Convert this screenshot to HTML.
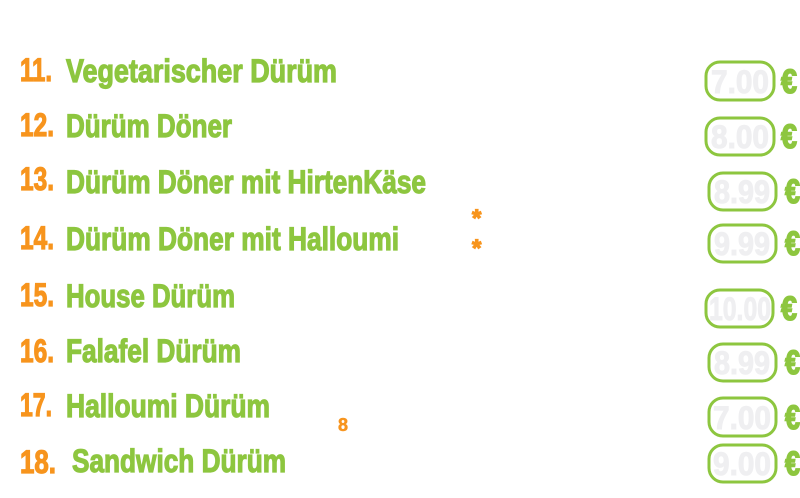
<!DOCTYPE html>
<html><head><meta charset="utf-8"><style>html,body{margin:0;padding:0;background:#fff;width:800px;height:498px;overflow:hidden}</style></head>
<body>
<svg width="800" height="498" xmlns="http://www.w3.org/2000/svg" style="display:block">
<g font-family="Liberation Sans, sans-serif" font-weight="bold" font-size="32">
<g fill="#f7941d" stroke="#f7941d" stroke-width="1.2">
<text x="20" y="81" textLength="32" lengthAdjust="spacingAndGlyphs">11.</text>
<text x="20" y="136" textLength="34" lengthAdjust="spacingAndGlyphs">12.</text>
<text x="20" y="190" textLength="34" lengthAdjust="spacingAndGlyphs">13.</text>
<text x="20" y="249" textLength="34" lengthAdjust="spacingAndGlyphs">14.</text>
<text x="20" y="306" textLength="34" lengthAdjust="spacingAndGlyphs">15.</text>
<text x="20" y="362" textLength="34" lengthAdjust="spacingAndGlyphs">16.</text>
<text x="20" y="416" textLength="32" lengthAdjust="spacingAndGlyphs">17.</text>
<text x="20" y="473" textLength="36" lengthAdjust="spacingAndGlyphs">18.</text>
<text x="472" y="226" font-size="24">*</text>
<text x="472" y="256" font-size="24">*</text>
<text x="338" y="431" font-size="18" stroke-width="0.5">8</text>
</g>
<g fill="#8dc63f" stroke="#8dc63f" stroke-width="1.2">
<text x="66" y="82" textLength="271" lengthAdjust="spacingAndGlyphs">Vegetarischer Dürüm</text>
<text x="66" y="137" textLength="166" lengthAdjust="spacingAndGlyphs">Dürüm Döner</text>
<text x="66" y="193" textLength="360" lengthAdjust="spacingAndGlyphs">Dürüm Döner mit HirtenKäse</text>
<text x="66" y="250" textLength="333" lengthAdjust="spacingAndGlyphs">Dürüm Döner mit Halloumi</text>
<text x="66" y="307" textLength="169" lengthAdjust="spacingAndGlyphs">House Dürüm</text>
<text x="66" y="362" textLength="175" lengthAdjust="spacingAndGlyphs">Falafel Dürüm</text>
<text x="66" y="417" textLength="204" lengthAdjust="spacingAndGlyphs">Halloumi Dürüm</text>
<text x="72" y="472" textLength="214" lengthAdjust="spacingAndGlyphs">Sandwich Dürüm</text>
</g>
<g fill="none" stroke="#8dc63f" stroke-width="3">
<rect x="706" y="62" width="68" height="38" rx="14"/>
<rect x="706" y="118" width="68" height="37" rx="14"/>
<rect x="709" y="173" width="67" height="37" rx="14"/>
<rect x="709" y="225" width="67" height="37" rx="14"/>
<rect x="706" y="290" width="67" height="37" rx="14"/>
<rect x="709" y="344" width="67" height="37" rx="14"/>
<rect x="709" y="398" width="67" height="38" rx="14"/>
<rect x="709" y="445" width="67" height="37" rx="14"/>
</g>
<g fill="#efeff1" stroke="#efeff1" stroke-width="1" font-size="32" text-anchor="middle">
<text x="740" y="93" textLength="58" lengthAdjust="spacingAndGlyphs">7.00</text>
<text x="740" y="148" textLength="58" lengthAdjust="spacingAndGlyphs">8.00</text>
<text x="742" y="203" textLength="56" lengthAdjust="spacingAndGlyphs">8.99</text>
<text x="742" y="255" textLength="56" lengthAdjust="spacingAndGlyphs">9.99</text>
<text x="740" y="320" textLength="62" lengthAdjust="spacingAndGlyphs">10.00</text>
<text x="742" y="374" textLength="56" lengthAdjust="spacingAndGlyphs">8.99</text>
<text x="742" y="429" textLength="58" lengthAdjust="spacingAndGlyphs">7.00</text>
<text x="742" y="475" textLength="58" lengthAdjust="spacingAndGlyphs">9.00</text>
</g>
<g fill="#8dc63f" stroke="#8dc63f" stroke-width="1.5" font-size="34">
<text x="781" y="93" textLength="16" lengthAdjust="spacingAndGlyphs">€</text>
<text x="781" y="148" textLength="16" lengthAdjust="spacingAndGlyphs">€</text>
<text x="785" y="203" textLength="15" lengthAdjust="spacingAndGlyphs">€</text>
<text x="785" y="255" textLength="15" lengthAdjust="spacingAndGlyphs">€</text>
<text x="781" y="320" textLength="16" lengthAdjust="spacingAndGlyphs">€</text>
<text x="785" y="374" textLength="15" lengthAdjust="spacingAndGlyphs">€</text>
<text x="785" y="429" textLength="15" lengthAdjust="spacingAndGlyphs">€</text>
<text x="785" y="475" textLength="15" lengthAdjust="spacingAndGlyphs">€</text>
</g>
</g>
</svg>
</body></html>
